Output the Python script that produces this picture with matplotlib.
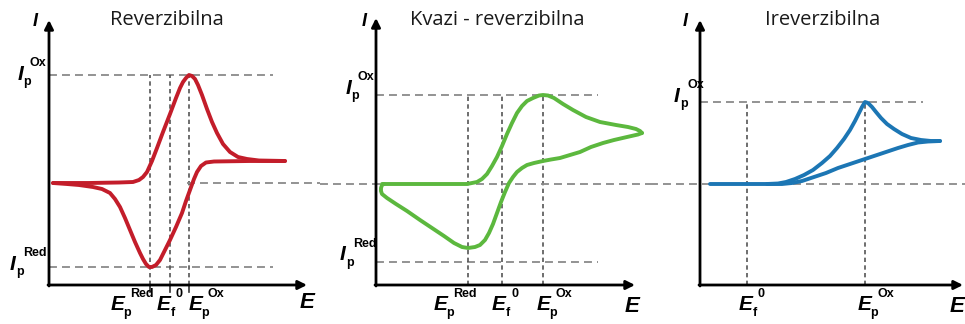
import matplotlib
matplotlib.use("Agg")
import matplotlib.pyplot as plt

# Reverzibilna: anodna (gornja) i katodna (donja) grana, E i I u relativnim jedinicama
rev_fwd_E = [4, 40, 70, 84, 90, 94, 98, 103, 108, 114, 121, 127, 131, 134, 137, 140, 143, 146, 149,
             153, 158, 163, 168, 174, 181, 189, 198, 210, 236]
rev_fwd_I = [0, 0, 0.5, 1, 3, 6, 11, 22, 35, 51, 69, 85, 95, 101, 105, 108, 107, 104, 98,
             88, 74, 61, 50, 39, 31, 26, 24, 22.5, 22]
rev_bwd_E = [236, 200, 165, 157, 152, 148, 145, 141, 137, 133, 127, 121, 116, 111, 107, 103, 100, 97,
             94, 91, 86, 81, 76, 71, 66, 61, 53, 44, 30, 18, 4]
rev_bwd_I = [22, 22, 21.5, 20.5, 17, 11, 4, -7, -18, -30, -44, -57, -67, -77, -82, -84, -84, -81,
             -76, -70, -59, -47, -35, -24, -16, -10, -6, -4, -2, -1, 0]
rev_Ep = {"Red": 101, "f0": 121, "Ox": 140}
rev_Ip = {"Ox": 108, "Red": -84}

# Kvazi - reverzibilna
qr_fwd_E = [6, 50, 91, 96, 101, 106, 111, 116, 121, 126, 131, 136, 141, 146, 151, 157, 163, 167, 172,
            178, 187, 197, 210, 224, 240, 252, 260, 264, 266]
qr_fwd_I = [0, 0, 0, 1, 2, 5, 10, 18, 27, 38, 50, 61, 71, 78, 83, 86, 88.5, 89, 88.5,
            86, 80, 74, 67, 62, 59, 57, 55, 53, 51]
qr_bwd_E = [266, 262, 251, 238, 227, 215, 204, 194, 184, 175, 167, 158, 151, 146, 141, 137, 133, 129,
            125, 121, 117, 113, 109, 104, 99, 92, 86, 78, 68, 56, 44, 31, 20, 11, 6, 5, 5, 6, 8]
qr_bwd_I = [51, 49.5, 47, 44, 41, 37, 32, 29, 26, 24.5, 23, 21, 19, 16, 12, 7, 1, -8,
            -18, -29, -40, -49, -56, -61, -63, -64, -63, -59, -52, -44, -36, -27, -20, -14, -10, -7, -4, -1, 0]
qr_Ep = {"Red": 92, "f0": 126, "Ox": 167}
qr_Ip = {"Ox": 89, "Red": -78}

# Ireverzibilna
ir_fwd_E = [10, 50, 67, 78, 86, 95, 104, 113, 122, 130, 137, 144, 150, 155, 159, 162, 165, 168, 172,
            176, 181, 187, 194, 202, 211, 221, 231, 240]
ir_fwd_I = [0, 0, 0, 0.5, 2, 5, 9, 14, 21, 28, 36, 45, 54, 63, 71, 77, 82, 81, 77,
            72, 66, 60, 55, 50, 46, 44, 43, 43]
ir_bwd_E = [240, 228, 218, 208, 198, 186, 174, 162, 150, 138, 126, 114, 102, 92, 82, 67]
ir_bwd_I = [43, 42.5, 41.5, 39, 36, 32, 28, 24, 20, 16, 11, 7, 3, 1, 0, 0]
ir_Ep = {"f0": 47, "Ox": 165}
ir_Ip = {"Ox": 82}

titles = ["Reverzibilna", "Kvazi - reverzibilna", "Ireverzibilna"]
colors = ["#c31d2a", "#5cb83e", "#1c76b4"]

W, H = 965, 324
fig = plt.figure(figsize=(W / 100, H / 100), dpi=100)

LBL = dict(family="Liberation Sans", fontweight="bold", fontstyle="italic")
SUB = dict(family="Liberation Sans", fontweight="bold")


def ftext(px, py, s, ha="center", **kw):
    # tekst u pikselima slike (od gornjeg lijevog kuta)
    fig.text(px / W, 1 - py / H, s, ha=ha, va="center", **kw)


def sym(px, py, main, sub, sup, size=15, dx_sub=7, dx_sup=10, dy_sup=-11):
    ftext(px, py, main, fontsize=size, **LBL)
    ftext(px + dx_sub, py + 8, sub, fontsize=9, **SUB)
    ftext(px + dx_sup, py + dy_sup, sup, ha="left", fontsize=9, **SUB)


# okvir panela u pikselima, ishodište osi i nulta linija struje
panels = [
    dict(x0=0, x1=320, ox=49, base=183, axis_I=-102, x_end=258, y_top=163, h_end=224),
    dict(x0=320, x1=650, ox=376, base=184, axis_I=-101, x_end=259, y_top=166, h_end=222),
    dict(x0=650, x1=965, ox=700, base=184, axis_I=-101, x_end=263, y_top=164, h_end=223),
]
curves = [
    (rev_fwd_E, rev_fwd_I, rev_bwd_E, rev_bwd_I, rev_Ep, rev_Ip),
    (qr_fwd_E, qr_fwd_I, qr_bwd_E, qr_bwd_I, qr_Ep, qr_Ip),
    (ir_fwd_E, ir_fwd_I, ir_bwd_E, ir_bwd_I, ir_Ep, ir_Ip),
]

hkw = dict(color="#8a8a8a", lw=1.3, dashes=(4.4, 2.8), zorder=1)
vkw = dict(color="#555555", lw=1.2, dashes=(2.6, 2.0), zorder=1)

axes = []
for p, (fE, fI, bE, bI, Ep, Ip), col in zip(panels, curves, colors):
    ax = fig.add_axes([p["x0"] / W, 0, (p["x1"] - p["x0"]) / W, 1])
    ax.set_xlim(p["x0"] - p["ox"], p["x1"] - p["ox"])
    ax.set_ylim(p["base"] - H, p["base"])
    ax.axis("off")
    axes.append(ax)
    aI = p["axis_I"]

    # isprekidane pomoćne linije
    for v in Ip.values():
        ax.plot([0, p["h_end"]], [v, v], **hkw)
    for v in Ep.values():
        ax.plot([v, v], [aI, Ip["Ox"]], **vkw)

    # osi sa strelicama
    arr = dict(arrowstyle="-|>", lw=2, color="black", mutation_scale=13, shrinkA=0, shrinkB=0)
    ax.annotate("", xy=(p["x_end"], aI), xytext=(-1, aI), arrowprops=arr)
    ax.annotate("", xy=(0, p["y_top"]), xytext=(0, aI - 1), arrowprops=arr)

    # krivulja
    for E, I in [(fE, fI), (bE, bI)]:
        ax.plot(E, I, color=col, lw=2.8, solid_joinstyle="round", solid_capstyle="round", zorder=3)

# dugačka nulta linija kroz sve panele
axes[0].plot([138, 271], [0, 0], **hkw)
axes[1].plot([-56, 274], [0, 0], **hkw)
axes[2].plot([-50, 265], [0, 0], **hkw)

# kratke crtice ispod osi (prvi panel)
for v in rev_Ep.values():
    axes[0].plot([v, v], [-102, -109], color="#333333", lw=1.2, zorder=2)

# naslovi
for t, cx in zip(titles, [167, 497, 823]):
    ftext(cx, 20, t, fontsize=14.5, family="Open Sans", color="#1a1a1a")

# oznake osi
for px, py in [(35, 22), (364, 21), (685, 22)]:
    ftext(px, py, "I", fontsize=13, **LBL)
for px, py in [(307, 302), (632, 306), (957, 306)]:
    ftext(px, py, "E", fontsize=16, **LBL)

# I_p oznake
sym(20, 74, "I", "p", "Ox")
sym(13, 264, "I", "p", "Red")
sym(348, 88, "I", "p", "Ox")
sym(343, 255, "I", "p", "Red")
sym(677, 96, "I", "p", "Ox")

# E_p oznake
for px, sub, sup in [(118, "p", "Red"), (164, "f", "0"), (196, "p", "Ox"),
                     (441, "p", "Red"), (499, "f", "0"), (544, "p", "Ox"),
                     (746, "f", "0"), (865, "p", "Ox")]:
    sym(px, 305, "E", sub, sup, dx_sub=9, dx_sup=12, dy_sup=-11)

fig.savefig("out.png", dpi=100)
